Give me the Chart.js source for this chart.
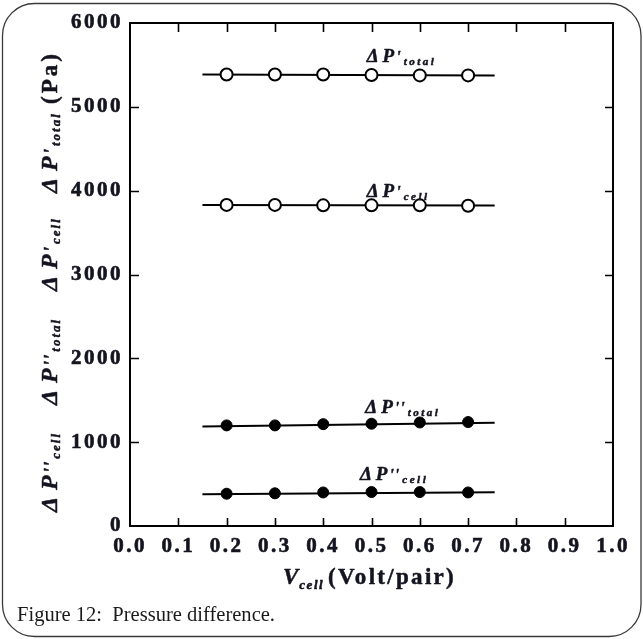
<!DOCTYPE html>
<html>
<head>
<meta charset="utf-8">
<script src="https://cdn.jsdelivr.net/npm/chart.js@4.4.1/dist/chart.umd.min.js"></script>
<style>
  html, body { margin: 0; padding: 0; background: #fff; }
  #wrap { width: 643px; height: 639px; position: relative; }
</style>
</head>
<body>
<div id="wrap"><canvas id="c" width="643" height="639"></canvas></div>
<script>
// ---- data ----
const voltages = [0.2, 0.3, 0.4, 0.5, 0.6, 0.7];
const dP1Total = [5385, 5385, 5385, 5380, 5375, 5375];   // ΔP'total
const dP1Cell  = [3830, 3830, 3825, 3825, 3825, 3820];   // ΔP'cell
const dP2Total = [1200, 1200, 1215, 1220, 1235, 1240];   // ΔP''total
const dP2Cell  = [385, 390, 400, 405, 405, 400];         // ΔP''cell
const fitX        = [0.15, 0.755];
const fitP1Total  = [5385, 5375];
const fitP1Cell   = [3828, 3822];
const fitP2Total  = [1188, 1232];
const fitP2Cell   = [380, 402];
const xTickLabels = ['0.0','0.1','0.2','0.3','0.4','0.5','0.6','0.7','0.8','0.9','1.0'];
const yTickLabels = ['0','1000','2000','3000','4000','5000','6000'];

const SERIF = "'Liberation Serif', 'Times New Roman', serif";
const INK = '#141420';

const pts = (xs, ys) => xs.map((x, i) => ({ x: x, y: ys[i] }));

function lineDs(ys) {
  return { type: 'line', data: pts(fitX, ys), borderColor: '#000', borderWidth: 2,
           pointRadius: 0, fill: false, order: 2, tension: 0 };
}
function markDs(ys, open) {
  return { type: 'scatter', data: pts(voltages, ys), showLine: false,
           pointStyle: 'circle', pointRadius: open ? 6 : 5.5,
           pointBackgroundColor: open ? '#fff' : '#000',
           pointBorderColor: '#000', pointBorderWidth: open ? 2 : 1, order: 1 };
}

function drawParts(ctx, x, y, parts) {
  let cx = x;
  ctx.strokeStyle = ctx.fillStyle;
  ctx.lineWidth = 0.5;
  ctx.lineJoin = 'round';
  for (const p of parts) {
    ctx.font = (p.italic ? 'italic ' : '') + (p.bold === false ? '' : 'bold ') + p.size + 'px ' + SERIF;
    ctx.letterSpacing = (p.ls || 0) + 'px';
    cx += p.gap || 0;
    ctx.fillText(p.t, cx, y + (p.dy || 0));
    ctx.strokeText(p.t, cx, y + (p.dy || 0));
    cx += ctx.measureText(p.t).width;
  }
  ctx.letterSpacing = '0px';
  return cx;
}

function labelParts(prime, sub, size) {
  const s = size;
  return [
    { t: 'Δ', size: s, italic: true },
    { t: 'P', size: s, italic: true, gap: 4 },
    { t: prime, size: s - 3, italic: true, gap: 2, ls: 1 },
    { t: sub, size: Math.round(s * 0.6), italic: true, ls: 2.5, dy: 3, gap: 2 }
  ];
}

const annotations = [
  { x: 0.49, y: 5535, prime: "'", sub: 'total' },
  { x: 0.49, y: 3925, prime: "'", sub: 'cell' },
  { x: 0.487, y: 1348, prime: "''", sub: 'total' },
  { x: 0.476, y: 549, prime: "''", sub: 'cell' }
];

const decor = {
  id: 'decor',
  beforeDraw(chart) {
    const ctx = chart.ctx;
    ctx.save();
    ctx.fillStyle = '#fff';
    ctx.fillRect(0, 0, chart.width, chart.height);
    ctx.strokeStyle = '#3a3a3a';
    ctx.lineWidth = 1.3;
    ctx.beginPath();
    ctx.roundRect(2.5, 3.5, 638.5, 633, 32);
    ctx.stroke();
    ctx.restore();
    ctx.letterSpacing = '2.5px';
  },
  afterDraw(chart) {
    const ctx = chart.ctx;
    const a = chart.chartArea;
    const xs = chart.scales.x, ys = chart.scales.y;
    ctx.save();
    ctx.letterSpacing = '0px';
    ctx.strokeStyle = '#000';
    ctx.lineWidth = 2;
    // top & right frame
    ctx.beginPath();
    ctx.moveTo(a.left, a.top); ctx.lineTo(a.right, a.top); ctx.lineTo(a.right, a.bottom);
    ctx.stroke();
    // inward ticks
    ctx.lineWidth = 1.6;
    ctx.beginPath();
    xs.ticks.forEach(t => {
      if (t.value <= 0 || t.value >= 1) return;
      const px = Math.round(xs.getPixelForValue(t.value)) + 0.5;
      ctx.moveTo(px, a.bottom); ctx.lineTo(px, a.bottom - 8);
      ctx.moveTo(px, a.top); ctx.lineTo(px, a.top + 9);
    });
    ys.ticks.forEach(t => {
      if (t.value <= 0 || t.value >= 6000) return;
      const py = Math.round(ys.getPixelForValue(t.value)) + 0.5;
      ctx.moveTo(a.left, py); ctx.lineTo(a.left + 9, py);
      ctx.moveTo(a.right, py); ctx.lineTo(a.right - 8, py);
    });
    ctx.stroke();

    ctx.fillStyle = INK;
    ctx.textBaseline = 'alphabetic';
    ctx.textAlign = 'left';
    // in-plot series labels
    annotations.forEach(an => {
      drawParts(ctx, xs.getPixelForValue(an.x), ys.getPixelForValue(an.y), labelParts(an.prime, an.sub, 19));
    });

    // x axis title
    drawParts(ctx, 283, 584, [
      { t: 'V', size: 23, italic: true },
      { t: 'cell', size: 13, italic: true, ls: 1.5, dy: 5, gap: 1 },
      { t: '(Volt/pair)', size: 23, ls: 2.3, gap: 4 }
    ]);

    // y axis title (rotated)
    ctx.save();
    ctx.translate(57, 0);
    ctx.rotate(-Math.PI / 2);
    const groups = [
      { start: 512, prime: "''", sub: 'cell' },
      { start: 405, prime: "''", sub: 'total' },
      { start: 291, prime: "'", sub: 'cell' },
      { start: 193, prime: "'", sub: 'total' }
    ];
    groups.forEach(g => {
      drawParts(ctx, -g.start, 0, [
        { t: 'Δ', size: 24, italic: true },
        { t: 'P', size: 24, italic: true, gap: 7 },
        { t: g.prime, size: 19, italic: true, gap: 2, ls: 1 },
        { t: g.sub, size: 13, italic: true, ls: 2, dy: 3, gap: 2 }
      ]);
    });
    drawParts(ctx, -104, 0, [{ t: '(Pa)', size: 23, ls: 3 }]);
    ctx.restore();

    // caption
    const cap = 'Figure 12:  Pressure difference.';
    ctx.font = '21px ' + SERIF;
    const w = ctx.measureText(cap).width;
    ctx.save();
    ctx.translate(17, 621);
    ctx.scale(258 / w, 1);
    ctx.fillStyle = '#1a1a1a';
    ctx.fillText(cap, 0, 0);
    ctx.restore();
    ctx.restore();
  }
};

const tickFont = { family: SERIF, size: 21, weight: 'bold' };

new Chart(document.getElementById('c'), {
  type: 'scatter',
  data: {
    datasets: [
      lineDs(fitP1Total), markDs(dP1Total, true),
      lineDs(fitP1Cell),  markDs(dP1Cell, true),
      lineDs(fitP2Total), markDs(dP2Total, false),
      lineDs(fitP2Cell),  markDs(dP2Cell, false)
    ]
  },
  options: {
    responsive: false,
    animation: false,
    devicePixelRatio: 1,
    layout: { padding: { left: 0, top: 23, right: 30, bottom: 0 } },
    plugins: { legend: { display: false }, tooltip: { enabled: false }, title: { display: false } },
    scales: {
      x: {
        type: 'linear', min: 0, max: 1,
        afterBuildTicks(s) { s.ticks = xTickLabels.map(l => ({ value: parseFloat(l) })); },
        afterFit(s) { s.height = 113; },
        grid: { display: false, drawTicks: false },
        border: { display: true, color: '#000', width: 2 },
        ticks: {
          padding: 8, color: INK, maxRotation: 0, autoSkip: false,
          textStrokeColor: INK, textStrokeWidth: 0.6,
          font: tickFont,
          callback: (v) => xTickLabels[Math.round(v * 10)]
        }
      },
      y: {
        type: 'linear', min: 0, max: 6000,
        afterBuildTicks(s) { s.ticks = yTickLabels.map(l => ({ value: parseFloat(l) })); },
        afterFit(s) { s.width = 130; },
        grid: { display: false, drawTicks: false },
        border: { display: true, color: '#000', width: 2 },
        ticks: {
          padding: 7, color: INK, autoSkip: false,
          textStrokeColor: INK, textStrokeWidth: 0.6,
          font: tickFont,
          callback: (v) => yTickLabels[Math.round(v / 1000)]
        }
      }
    }
  },
  plugins: [decor]
});
</script>
</body>
</html>
